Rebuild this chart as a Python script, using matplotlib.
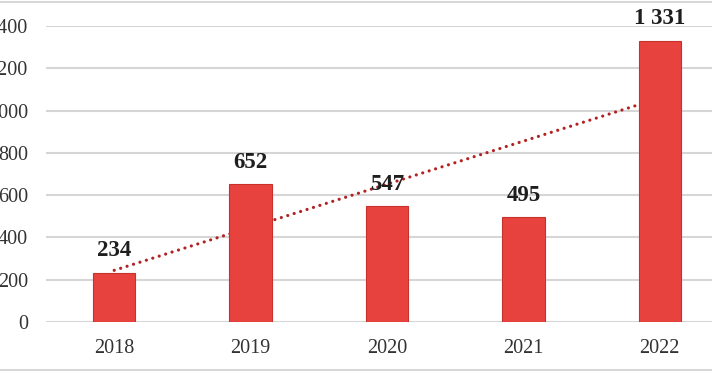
import matplotlib.pyplot as plt
import numpy as np

years = ["2018", "2019", "2020", "2021", "2022"]
values = [234, 652, 547, 495, 1331]
labels = ["234", "652", "547", "495", "1 331"]
yticks = [0, 200, 400, 600, 800, 1000, 1200, 1400]

plt.rcParams['font.family'] = ['Liberation Serif', 'DejaVu Serif']

fig = plt.figure(figsize=(7.12, 3.75), dpi=100)
ax = fig.add_axes([46/712, 53/375, 682/712, 296/375])

x = np.arange(len(years))
ax.bar(x, values, width=0.31, color='#E8423F', edgecolor='#C8302C', linewidth=0.8, zorder=3)

# linear trend line
k, b = np.polyfit(x, values, 1)
ax.plot(x, k * x + b, linestyle=(0, (0.01, 2.1)), color='#B22222', linewidth=2.3,
        dash_capstyle='round', zorder=2)

for xi, v, lab in zip(x, values, labels):
    ax.annotate(lab, (xi, v), xytext=(0, 8), textcoords='offset points',
                ha='center', va='bottom', fontsize=16.5, fontweight='bold', color='#1E1E1E')

ax.set_xlim(-0.5, len(years) - 0.5)
ax.set_ylim(0, 1400)
ax.set_yticks(yticks)
ax.set_yticklabels([str(t) for t in yticks])
ax.set_xticks(x)
ax.set_xticklabels(years)
ax.tick_params(axis='both', length=0, labelsize=14.5, colors='#333333')
ax.tick_params(axis='y', pad=13)
ax.tick_params(axis='x', pad=12)
ax.yaxis.grid(True, color='#D6D6D6', linewidth=1.5, zorder=0)
ax.set_axisbelow(True)
for s in ax.spines.values():
    s.set_visible(False)

# chart frame lines (top and bottom)
fig.add_artist(plt.Line2D([0, 1], [0.995, 0.995], color='#D0D0D0', linewidth=1.2))
fig.add_artist(plt.Line2D([0, 1], [0.013, 0.013], color='#D0D0D0', linewidth=1.2))

fig.savefig('out.png', dpi=100)
